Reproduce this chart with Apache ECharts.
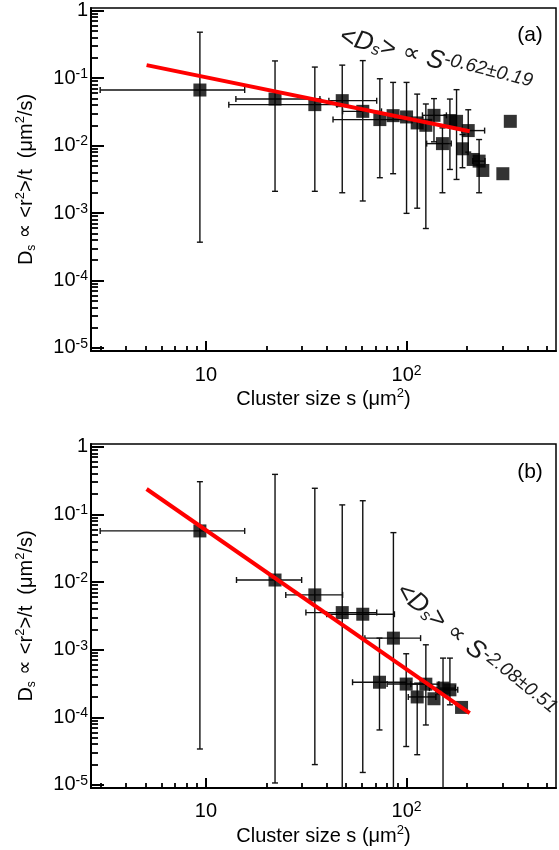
<!DOCTYPE html>
<html>
<head>
<meta charset="utf-8">
<script src="https://cdn.jsdelivr.net/npm/echarts@6/dist/echarts.min.js"></script>
<style>
html, body { margin: 0; padding: 0; background: #fff; }
#chart { width: 559px; height: 850px; }
</style>
</head>
<body>
<div id="chart"></div>
<script>
// panel (a): cluster size s (um^2) and D_s (um^2/s)
var sizeA = [9.33, 22.1, 34.9, 47.8, 60.5, 73.6, 85.7, 100, 113, 124.8, 137, 151, 164.5, 177.5, 190, 203, 215, 230, 240, 302, 329];
var dA = [0.0667, 0.049, 0.0405, 0.0464, 0.0322, 0.0243, 0.0278, 0.0266, 0.0217, 0.020, 0.0281, 0.0107, 0.0235, 0.0229, 0.00897, 0.0167, 0.00623, 0.00589, 0.00428, 0.00383, 0.0229];
var dLowA = [3.7e-4, 0.0021, 0.0021, 0.0020, 0.00151, 0.00334, 0.00383, 0.00099, 0.00118, 5.9e-4, 0.01138, 0.002, 0.00443, 0.00315, 0.0047, 0.008, null, 0.002, null, null, null];
var dHighA = [0.48, 0.18, 0.146, 0.156, 0.182, 0.098, 0.0865, 0.0865, 0.058, 0.0414, 0.0497, 0.0183, 0.049, 0.0675, 0.0146, 0.034, null, 0.0123, null, null, null];
var sLowA = [2.97, 14.1, 13.0, 41, 48, 43, null, null, null, null, 120, 126, null, null, null, 188.6, null, 214, null, null, null];
var sHighA = [15.6, 37, 45, 71, 75, 100, null, null, null, null, 158, 167, null, null, null, 245, null, 246, null, null, null];
var fitSA = [5.06, 206.5];
var fitDA = [0.156, 0.0163];

// panel (b)
var sizeB = [9.33, 22.1, 34.9, 47.8, 60.5, 73.3, 86, 99.6, 113, 124.8, 137, 152, 164.5, 188];
var dB = [0.0569, 0.0107, 0.00645, 0.00353, 0.00334, 3.3e-4, 0.00148, 3.1e-4, 2.0e-4, 3.09e-4, 1.88e-4, 2.7e-4, 2.55e-4, 1.4e-4];
var dLowB = [3.4e-5, 1.07e-5, 2.0e-5, 5e-6, 1.53e-5, 6.5e-5, 5e-6, 3.7e-5, 2.8e-5, 7.7e-5, null, 5e-6, 1.53e-4, null];
var dHighB = [0.304, 0.39, 0.243, 0.138, 0.159, 0.00148, 0.0537, 8.7e-4, 3.2e-4, 0.00118, null, 7.5e-4, 7.5e-4, null];
var sLowB = [2.97, 14.2, 25, 31.5, 40, 53.8, 62, 80, 102, 105, null, 130, 140, null];
var sHighB = [15.6, 30, 48, 71, 87, 100, 117.5, 125, 140, 145, null, 175, 180, null];
var fitSB = [5.06, 206.5];
var fitDB = [0.237, 1.15e-4];

var yMajor = [-5, -4, -3, -2, -1, 0];
var xMajor = [1, 2];

var FONT = "'Liberation Sans', Arial, Helvetica, sans-serif";
var L = Math.log10;

var yMinor = [];
for (var e = -5; e < 0; e++) for (var k = 2; k <= 9; k++) yMinor.push(L(k) + e);
var xMinor = [];
[3, 4, 5, 6, 7, 8, 9, 20, 30, 40, 50, 60, 70, 80, 90, 200, 300, 400, 500].forEach(function (v) { xMinor.push(L(v)); });

function pts(xs, ys) {
    return xs.map(function (x, i) { return [L(x), L(ys[i])]; });
}
function vData(xs, lo, hi) {
    var out = [];
    xs.forEach(function (x, i) { if (lo[i] != null) out.push([L(x), L(lo[i]), L(hi[i])]); });
    return out;
}
function hData(ys, lo, hi) {
    var out = [];
    ys.forEach(function (y, i) { if (lo[i] != null) out.push([L(y), L(lo[i]), L(hi[i])]); });
    return out;
}

var barStyle = { stroke: '#111', lineWidth: 1.4 };
function seg(x1, y1, x2, y2) {
    return { type: 'line', shape: { x1: x1, y1: y1, x2: x2, y2: y2 }, style: barStyle };
}
function vBar(params, api) {
    var a = api.coord([api.value(0), api.value(1)]);
    var b = api.coord([api.value(0), api.value(2)]);
    return { type: 'group', children: [
        seg(a[0], a[1], b[0], b[1]),
        seg(a[0] - 3, a[1], a[0] + 3, a[1]),
        seg(b[0] - 3, b[1], b[0] + 3, b[1])
    ] };
}
function hBar(params, api) {
    var a = api.coord([api.value(1), api.value(0)]);
    var b = api.coord([api.value(2), api.value(0)]);
    return { type: 'group', children: [
        seg(a[0], a[1], b[0], b[1]),
        seg(a[0], a[1] - 3, a[0], a[1] + 3),
        seg(b[0], b[1] - 3, b[0], b[1] + 3)
    ] };
}

function yLabel(v) {
    return v === 0 ? '{n|1}' : '{n|10}{s|' + v + '}';
}
function xLabel(v) {
    return v === 1 ? '{n|10}' : '{n|10}{s|' + v + '}';
}

var nameRich = {
    t: { fontSize: 20, lineHeight: 24, fontFamily: FONT, color: '#000' },
    p: { fontSize: 20, lineHeight: 24, fontFamily: 'DejaVu Sans', color: '#000' },
    sub: { fontSize: 12, lineHeight: 12, verticalAlign: 'bottom', fontFamily: FONT, color: '#000' },
    sup: { fontSize: 13, lineHeight: 13, verticalAlign: 'top', fontFamily: FONT, color: '#000' }
};

function xAxes(gi, gap) {
    return [{
        type: 'value', gridIndex: gi, position: 'bottom', min: 0.427, max: 2.745,
        axisLine: { onZero: false, lineStyle: { color: '#000', width: 2 } },
        axisTick: { inside: true, length: 10, customValues: xMajor, lineStyle: { color: '#000', width: 2 } },
        axisLabel: {
            customValues: xMajor, margin: gap, formatter: xLabel, color: '#000',
            rich: {
                n: { fontSize: 20, lineHeight: 22, fontFamily: FONT, color: '#000' },
                s: { fontSize: 14, lineHeight: 8, verticalAlign: 'top', fontFamily: FONT, color: '#000' }
            }
        },
        splitLine: { show: false },
        name: '{t|Cluster size s (μm}{sup|2}{t|)}',
        nameLocation: 'middle', nameGap: 36,
        nameTextStyle: { rich: nameRich }
    }, {
        type: 'value', gridIndex: gi, position: 'bottom', min: 0.427, max: 2.745,
        axisLine: { show: false, onZero: false },
        axisTick: { inside: true, length: 5, customValues: xMinor, lineStyle: { color: '#000', width: 1.8 } },
        axisLabel: { show: false },
        splitLine: { show: false }
    }];
}
function yAxes(gi) {
    return [{
        type: 'value', gridIndex: gi, position: 'left', min: -5.045, max: 0.04,
        axisLine: { onZero: false, lineStyle: { color: '#000', width: 2 } },
        axisTick: { inside: true, length: 13, customValues: yMajor, lineStyle: { color: '#000', width: 2 } },
        axisLabel: {
            customValues: yMajor, margin: 3, formatter: yLabel, color: '#000',
            rich: {
                n: { fontSize: 20, lineHeight: 22, fontFamily: FONT, color: '#000' },
                s: { fontSize: 14, lineHeight: 14, verticalAlign: 'top', fontFamily: FONT, color: '#000' }
            }
        },
        splitLine: { show: false },
        name: '{t|D}{sub|s}{p| ∝ }{t|<r}{sup|2}{t|>/t  (μm}{sup|2}{t|/s)}',
        nameLocation: 'middle', nameGap: 53, nameRotate: 90,
        nameTextStyle: { rich: nameRich }
    }, {
        type: 'value', gridIndex: gi, position: 'left', min: -5.045, max: 0.04,
        axisLine: { show: false, onZero: false },
        axisTick: { inside: true, length: 7, customValues: yMinor, lineStyle: { color: '#000', width: 1.8 } },
        axisLabel: { show: false },
        splitLine: { show: false }
    }];
}

function panelSeries(ax, xs, ys, lo, hi, slo, shi, fs, fd) {
    return [{
        type: 'custom', xAxisIndex: ax, yAxisIndex: ax, renderItem: vBar, clip: true, z: 2,
        data: vData(xs, lo, hi)
    }, {
        type: 'custom', xAxisIndex: ax, yAxisIndex: ax, renderItem: hBar, clip: true, z: 2,
        data: hData(ys, slo, shi)
    }, {
        type: 'scatter', xAxisIndex: ax, yAxisIndex: ax, symbol: 'rect', symbolSize: 13, z: 3,
        itemStyle: { color: '#000' },
        data: pts(xs, ys)
    }, {
        type: 'line', xAxisIndex: ax, yAxisIndex: ax, showSymbol: false, z: 4,
        lineStyle: { color: '#ff0000', width: 4 },
        data: pts(fs, fd)
    }];
}

var annRich = {
    b: { fontSize: 26, fontStyle: 'italic', fontFamily: FONT, fill: '#1a1a1a' },
    p: { fontSize: 24, fontFamily: 'DejaVu Sans', fill: '#1a1a1a' },
    sub: { fontSize: 16, fontStyle: 'italic', fontFamily: FONT, fill: '#1a1a1a', verticalAlign: 'bottom', lineHeight: 14 },
    sup: { fontSize: 19, fontStyle: 'italic', fontFamily: FONT, fill: '#1a1a1a', verticalAlign: 'top', lineHeight: 12 }
};

var chart = echarts.init(document.getElementById('chart'));
chart.setOption({
    animation: false,
    textStyle: { fontFamily: FONT },
    grid: [
        { left: 91, right: 3, top: 8, height: 343, show: true, borderColor: '#000', borderWidth: 1.5 },
        { left: 91, right: 3, top: 444, height: 344, show: true, borderColor: '#000', borderWidth: 1.5 }
    ],
    xAxis: xAxes(0, 13).concat(xAxes(1, 12)),
    yAxis: yAxes(0).concat(yAxes(1)),
    series: panelSeries(0, sizeA, dA, dLowA, dHighA, sLowA, sHighA, fitSA, fitDA)
        .concat(panelSeries(2, sizeB, dB, dLowB, dHighB, sLowB, sHighB, fitSB, fitDB)),
    graphic: [
        { type: 'text', x: 530, y: 35, z: 10, style: { text: '(a)', fontSize: 21, fontFamily: FONT, fill: '#000', align: 'center', verticalAlign: 'middle' } },
        { type: 'text', x: 530, y: 472, z: 10, style: { text: '(b)', fontSize: 21, fontFamily: FONT, fill: '#000', align: 'center', verticalAlign: 'middle' } },
        { type: 'text', x: 340, y: 36, rotation: -0.25, z: 10,
          style: { text: '{b|<D}{sub|s}{b|>}{p| ∝ }{b|S}{sup|-0.62±0.19}', rich: annRich, align: 'left', verticalAlign: 'middle' } },
        { type: 'text', x: 399, y: 588, rotation: -0.68, z: 10,
          style: { text: '{b|<D}{sub|s}{b|>}{p| ∝ }{b|S}{sup|-2.08±0.51}', rich: annRich, align: 'left', verticalAlign: 'middle' } }
    ]
});
</script>
</body>
</html>
